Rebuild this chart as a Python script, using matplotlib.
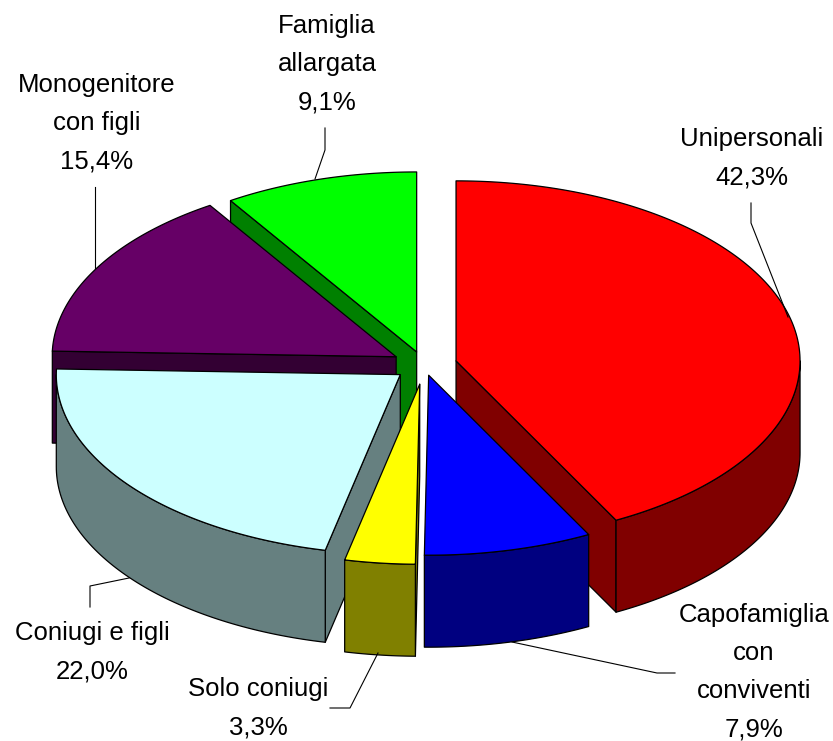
#!/usr/bin/env python3

import numpy as np
import matplotlib
matplotlib.use('Agg')
import matplotlib.pyplot as plt
from matplotlib.patches import Polygon

plt.rcParams['font.family'] = ['Liberation Sans', 'DejaVu Sans']

categories = ['Unipersonali', 'Capofamiglia\ncon\nconviventi', 'Solo coniugi',
              'Coniugi e figli', 'Monogenitore\ncon figli', 'Famiglia\nallargata']
values = [42.3, 7.9, 3.3, 22.0, 15.4, 9.1]

top_colors = ['#ff0000', '#0000ff', '#ffff00', '#ccffff', '#660066', '#00ff00']
side_colors = ['#800000', '#000080', '#808000', '#668080', '#330033', '#008000']

# pie geometry, in pixels of the 833x741 canvas
CX, CY = 424, 365
RX, RY = 344, 180
DEPTH = 92
explode = [33, 20, 37, 30, 32, 26]
# back slices first so the front ones cover them
draw_order = [0, 5, 4, 3, 2, 1]

# label centre x and baseline y of the first line, then leader line points
label_pos = [(752, 146), (754, 622), (258, 696), (92.5, 640), (97, 92), (327, 33)]
leaders = [
    [(751, 203), (751, 223), (788, 317)],
    [(512, 642), (657, 673), (675, 673)],
    [(330, 708), (350, 708), (378, 653)],
    [(90, 607), (90, 586), (129, 578)],
    [(95, 187), (95, 268)],
    [(325, 128), (325, 150), (315, 179)],
]
LINE_STEP = 38.2


def rim(apex, theta):
    # theta is in degrees, clockwise from the top of the pie
    t = np.radians(theta)
    return np.column_stack([apex[0] + RX * np.sin(t), apex[1] - RY * np.cos(t)])


def draw_slice(ax, i, start, end):
    mid = np.radians((start + end) / 2)
    apex = (CX + explode[i] * np.sin(mid), CY - explode[i] * RY / RX * np.cos(mid))
    down = np.array([0, DEPTH])
    style = dict(facecolor=side_colors[i], edgecolor='black', linewidth=0.9, joinstyle='round')

    # flat cut walls, only the ones facing the viewer
    for theta, normal in ((start, start - 90), (end, end + 90)):
        if np.cos(np.radians(normal)) < 0:
            p = rim(apex, np.array([theta]))[0]
            pts = [apex, p, p + down, np.array(apex) + down]
            ax.add_patch(Polygon(pts, closed=True, **style))

    # outer wall, only between 90 and 270 degrees
    lo, hi = max(start, 90), min(end, 270)
    if lo < hi:
        arc = rim(apex, np.linspace(lo, hi, 80))
        ax.add_patch(Polygon(np.vstack([arc, arc[::-1] + down]), closed=True, **style))

    arc = rim(apex, np.linspace(start, end, 160))
    ax.add_patch(Polygon(np.vstack([[apex], arc]), closed=True, facecolor=top_colors[i],
                         edgecolor='black', linewidth=0.9, joinstyle='round'))


fig = plt.figure(figsize=(8.33, 7.41), dpi=100)
ax = fig.add_axes([0, 0, 1, 1])
ax.set_xlim(0, 833)
ax.set_ylim(741, 0)
ax.axis('off')

angles = np.concatenate([[0], np.cumsum(values)]) / sum(values) * 360
for i in draw_order:
    draw_slice(ax, i, angles[i], angles[i + 1])

for i, name in enumerate(categories):
    lines = name.split('\n') + [f'{values[i]:.1f}%'.replace('.', ',')]
    x, y = label_pos[i]
    for k, line in enumerate(lines):
        ax.text(x, y + k * LINE_STEP, line, ha='center', va='baseline', fontsize=18.5, color='black')
    xs, ys = zip(*leaders[i])
    ax.plot(xs, ys, color='black', linewidth=0.8)

fig.savefig('out.png', dpi=100)
